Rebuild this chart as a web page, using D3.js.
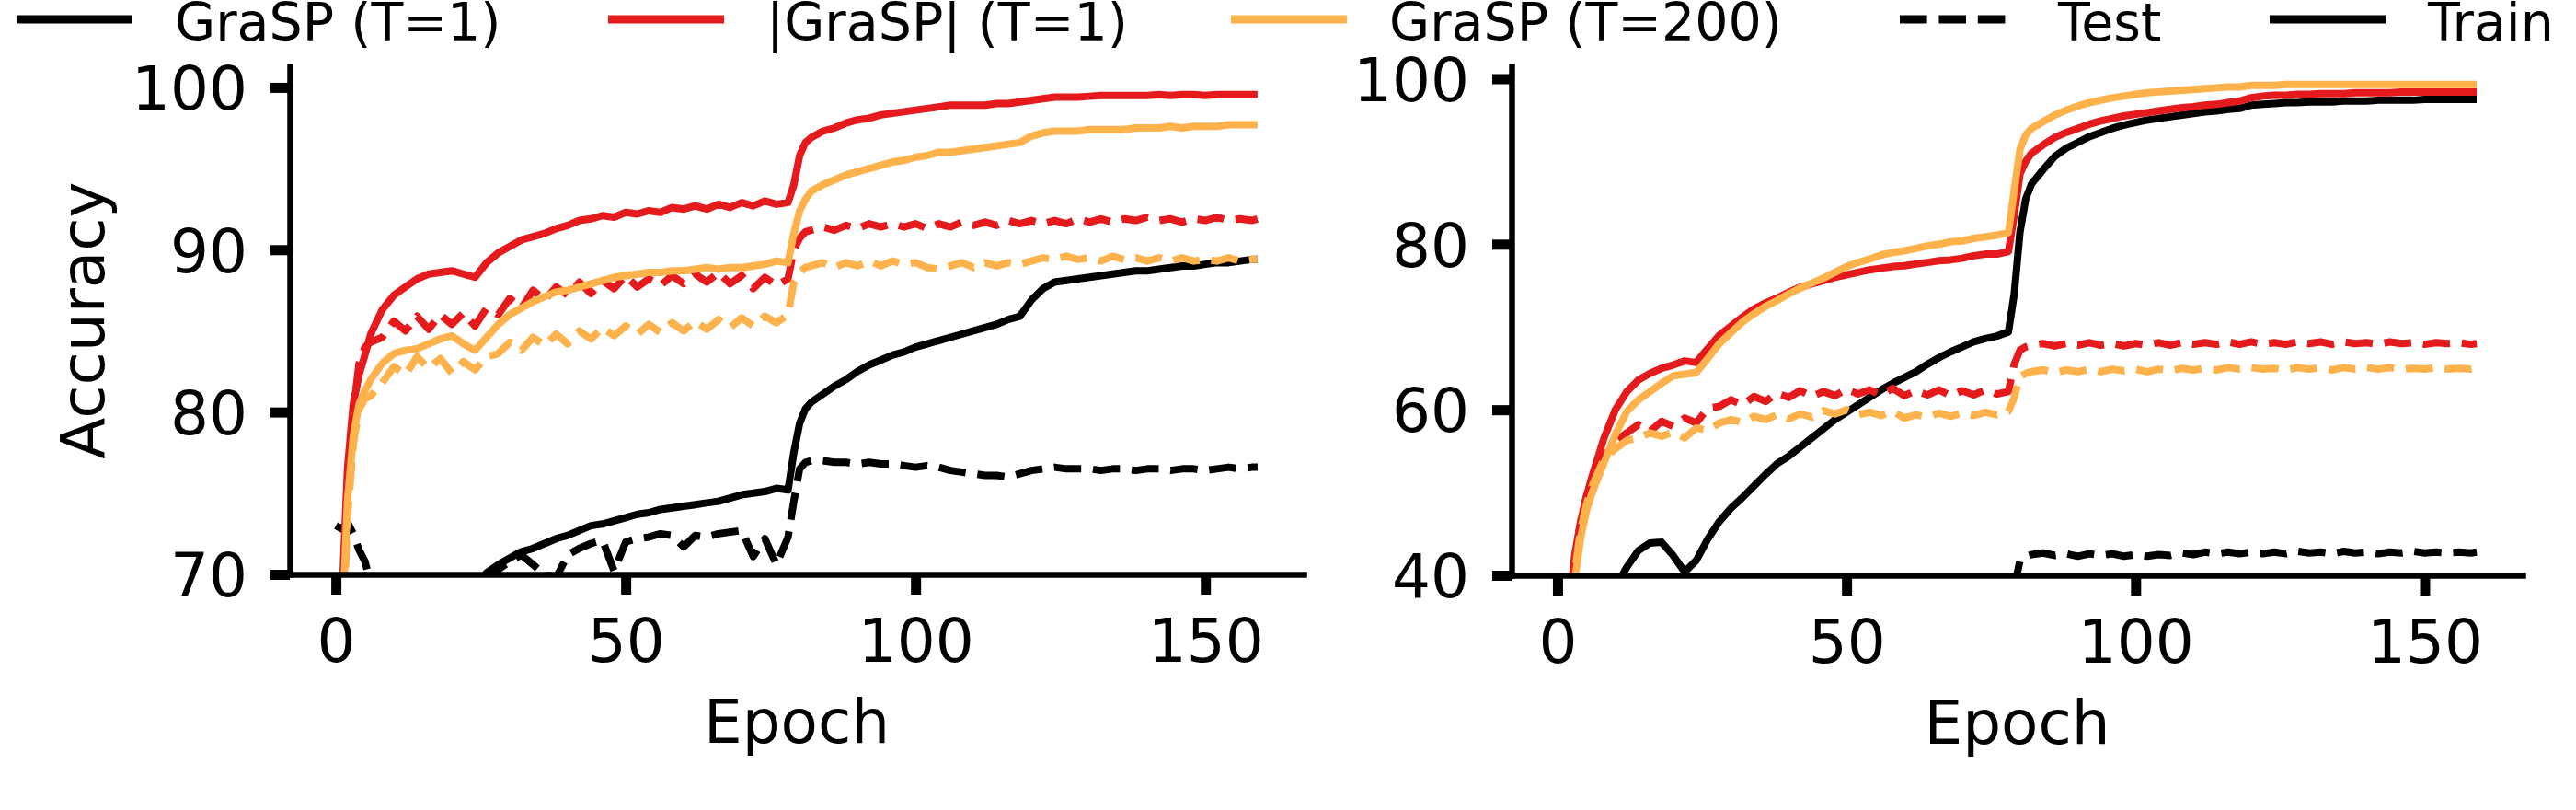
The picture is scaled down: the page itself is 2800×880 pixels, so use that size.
<!DOCTYPE html>
<html>
<head>
<meta charset="utf-8">
<script src="https://cdn.jsdelivr.net/npm/d3@7"></script>
<style>
    body { margin: 0; background: #fff; }
    text { font-family: "DejaVu Sans", sans-serif; fill: #000; }
</style>
</head>
<body>
<svg id="chart" width="2800" height="880"></svg>
<script>
'use strict';

/*
    Train / test accuracy per epoch, two panels, drawn with d3.
*/

// epochs sampled (dense around the start and the lr step at 80)
var epochs = [0, 1, 2, 3, 4, 5, 6,
    8, 10, 12, 14, 16, 18, 20, 22, 24, 26, 28, 30, 32, 34, 36, 38, 40, 42,
    44, 46, 48, 50, 52, 54, 56, 58, 60, 62, 64, 66, 68, 70, 72, 74, 76, 78,
    79, 80, 81,
    82, 84, 86, 88, 90, 92, 94, 96, 98, 100, 102, 104, 106, 108, 110, 112, 114, 116, 118,
    120, 122, 124, 126, 128, 130, 132, 134, 136, 138, 140, 142, 144, 146, 148, 150, 152, 154, 156, 158,
    159];

var xTicks = [0, 50, 100, 150];
var leftYTicks = [70, 80, 90, 100];
var rightYTicks = [40, 60, 80, 100];

/* left panel */
var leftBlackTrain = [20, 35, 45, 50, 54, 56, 58,
    60, 62, 63.5, 64.5, 65.5, 66.5, 67.5, 68.3, 69.2, 70.1, 70.6, 71.0, 71.4, 71.6, 71.9, 72.2, 72.4, 72.7,
    73.0, 73.1, 73.3, 73.5, 73.7, 73.8, 74.0, 74.1, 74.2, 74.3, 74.4, 74.5, 74.7, 74.9, 75.0, 75.1, 75.3, 75.2,
    77.5, 79.3, 80.2,
    80.6, 81.1, 81.6, 82.0, 82.5, 82.9, 83.2, 83.5, 83.7, 84.0, 84.2, 84.4, 84.6, 84.8, 85.0, 85.2, 85.4, 85.7, 85.9,
    86.9, 87.6, 88.0, 88.1, 88.2, 88.3, 88.4, 88.5, 88.6, 88.7, 88.7, 88.8, 88.9, 89.0, 89.0, 89.1, 89.2, 89.2, 89.3, 89.4,
    89.4];
var leftBlackTest = [73.0, 72.8, 73.2, 72.5, 71.5, 70.8, 69.5,
    67, 66, 65, 65.5, 66, 66.5, 67, 67.5, 68.5, 69.8, 70.3, 70.8, 71.2, 70.6, 70.0, 69.8, 71.2, 71.6,
    71.9, 72.1, 70.2, 72.0, 72.2, 72.3, 72.5, 72.4, 71.7, 72.4, 72.3, 72.5, 72.6, 72.7, 71.1, 72.2, 70.6, 72.3,
    74.5, 76.5, 76.9,
    77.0, 77.0, 76.9, 76.9, 76.8, 76.9, 76.8, 76.8, 76.7, 76.6, 76.7, 76.6, 76.4, 76.3, 76.2, 76.1, 76.1, 76.0, 76.2,
    76.4, 76.5, 76.6, 76.5, 76.5, 76.5, 76.4, 76.5, 76.5, 76.4, 76.5, 76.5, 76.4, 76.5, 76.5, 76.4, 76.5, 76.6, 76.5, 76.6,
    76.6];
var leftRedTrain = [55, 68, 76.5, 80.5, 82.3, 83.5, 84.8,
    86.3, 87.2, 87.7, 88.2, 88.5, 88.6, 88.7, 88.5, 88.3, 89.2, 89.8, 90.2, 90.6, 90.8, 91.0, 91.3, 91.5, 91.8,
    91.9, 92.1, 92.0, 92.3, 92.2, 92.4, 92.3, 92.6, 92.5, 92.7, 92.5, 92.8, 92.6, 92.9, 92.7, 93.0, 92.8, 92.9,
    94.0, 95.8, 96.6,
    96.9, 97.3, 97.5, 97.8, 98.0, 98.1, 98.3, 98.4, 98.5, 98.6, 98.7, 98.8, 98.9, 98.9, 98.9, 98.9, 99.0, 99.0, 99.1,
    99.2, 99.3, 99.4, 99.4, 99.4, 99.45, 99.5, 99.5, 99.5, 99.5, 99.5, 99.55, 99.5, 99.55, 99.55, 99.5, 99.55, 99.55, 99.55, 99.55,
    99.55];
var leftRedTest = [55, 67, 75, 80, 83.0, 84.0, 84.3,
    84.6, 85.6, 85.0, 85.9, 85.1, 86.0, 85.4, 86.1, 85.3, 86.4, 86.0, 87.0, 86.4, 87.5, 86.9, 87.7, 87.2, 88.0,
    87.3, 88.1, 87.6, 88.4, 87.7, 88.2, 87.8, 88.4, 87.9, 88.5, 88.0, 88.6, 87.9, 88.4, 87.6, 88.3, 87.8, 88.2,
    90.0, 90.7, 91.1,
    91.2, 91.4, 91.2, 91.5, 91.3, 91.6, 91.4, 91.6, 91.4, 91.6, 91.3, 91.6, 91.4, 91.7, 91.5, 91.7, 91.5, 91.8, 91.6,
    91.8, 91.6, 91.8, 91.6, 91.9, 91.7, 91.9, 91.7, 91.9, 91.8, 92.0, 91.8, 91.9, 91.7, 91.9, 91.8, 92.0, 91.8, 91.9, 91.8,
    91.9];
var leftOrangeTrain = [58, 66, 74.5, 78.5, 80.5, 81.3, 82.0,
    83.0, 83.6, 83.8, 83.9, 84.2, 84.5, 84.7, 84.2, 83.8, 84.6, 85.4, 86.0, 86.4, 86.8, 87.1, 87.4, 87.5, 87.7,
    87.9, 88.1, 88.3, 88.4, 88.5, 88.6, 88.6, 88.7, 88.7, 88.8, 88.9, 88.8, 88.9, 88.9, 89.0, 89.1, 89.3, 89.2,
    91.0, 92.4, 93.1,
    93.6, 94.0, 94.3, 94.6, 94.8, 95.0, 95.2, 95.4, 95.5, 95.7, 95.8, 96.0, 96.0, 96.1, 96.2, 96.3, 96.4, 96.5, 96.6,
    97.0, 97.2, 97.3, 97.3, 97.3, 97.4, 97.4, 97.4, 97.4, 97.5, 97.5, 97.5, 97.6, 97.5, 97.6, 97.6, 97.6, 97.7, 97.7, 97.7,
    97.7];
var leftOrangeTest = [56, 64, 73.5, 78, 80.2, 80.8, 81.0,
    81.8, 82.8, 82.3, 83.4, 82.7, 83.3, 82.4, 83.1, 82.6, 83.4, 83.6, 84.3, 83.8, 84.6, 84.1, 84.8, 84.2, 85.0,
    84.5, 85.2, 84.7, 85.3, 84.8, 85.4, 84.9, 85.5, 85.0, 85.6, 85.1, 85.7, 85.2, 85.8, 85.3, 85.9, 85.5, 86.0,
    88.0, 88.6, 88.9,
    89.0, 89.2, 88.9, 89.2, 89.0, 89.3, 89.0, 89.3, 89.1, 89.2, 88.9, 88.8, 89.0, 89.2, 88.9, 89.2, 89.0, 89.2, 89.1,
    89.3, 89.5, 89.4, 89.6, 89.4, 89.5, 89.3, 89.6, 89.4, 89.5, 89.3, 89.5, 89.3, 89.5, 89.3, 89.4, 89.3, 89.5, 89.3, 89.4,
    89.4];

/* right panel */
var rightBlackTrain = [20, 22, 24, 26, 28, 30, 32,
    35, 38.5, 41.0, 43.0, 43.9, 44.0, 42.4, 40.4, 41.8, 44.4, 46.5, 48.1, 49.4, 50.8, 52.2, 53.5, 54.4, 55.5,
    56.6, 57.7, 58.8, 59.7, 60.6, 61.5, 62.4, 63.2, 63.9, 64.6, 65.5, 66.3, 67.0, 67.6, 68.2, 68.6, 68.9, 69.4,
    74.0, 81.5, 85.5,
    87.3, 89.0, 90.6, 91.6, 92.3, 93.0, 93.5, 94.0, 94.4, 94.7, 95.0, 95.2, 95.4, 95.6, 95.8, 96.0, 96.1, 96.3, 96.4,
    96.8, 96.9, 97.0, 97.1, 97.1, 97.2, 97.2, 97.2, 97.3, 97.3, 97.3, 97.4, 97.4, 97.4, 97.4, 97.5, 97.5, 97.5, 97.5, 97.5,
    97.5];
var rightBlackTest = [12, 18, 22, 24, 25, 26, 27,
    28, 28.5, 29, 29.5, 29.8, 30.2, 30.5, 30.9, 31.2, 31.5, 31.8, 32.0, 32.3, 32.5, 32.7, 32.9, 33.1, 33.2,
    33.4, 33.5, 33.6, 33.8, 33.9, 34.0, 34.1, 34.2, 34.3, 34.4, 34.5, 34.6, 34.6, 34.7, 34.8, 34.8, 34.9, 35.0,
    38.5, 41.8, 42.3,
    42.5, 42.7, 42.4, 42.6, 42.3, 42.6, 42.4, 42.6, 42.3, 42.5, 42.3, 42.5, 42.4, 42.7, 42.5, 42.8, 42.6, 42.8, 42.6,
    42.8, 42.6, 42.8, 42.6, 42.9, 42.7, 42.8, 42.6, 42.9, 42.7, 42.8, 42.6, 42.8, 42.7, 42.9, 42.7, 42.8, 42.7, 42.8, 42.7,
    42.8];
var rightRedTrain = [20, 28, 36, 42.5, 46.5, 49.5, 52,
    56.5, 60.0, 62.2, 63.6, 64.4, 65.0, 65.4, 65.9, 65.7, 67.4, 69.0, 70.1, 71.2, 72.2, 72.9, 73.5, 74.2, 74.8,
    75.2, 75.6, 76.0, 76.3, 76.6, 76.9, 77.1, 77.3, 77.4, 77.6, 77.8, 78.0, 78.1, 78.3, 78.6, 78.8, 78.8, 79.1,
    83.5, 88.5, 90.0,
    91.0, 92.0, 92.9, 93.5, 94.0, 94.5, 94.9, 95.2, 95.5, 95.7, 95.9, 96.1, 96.3, 96.5, 96.6, 96.8, 96.9, 97.1, 97.3,
    97.7, 97.9, 98.0, 98.0, 98.1, 98.1, 98.2, 98.2, 98.2, 98.3, 98.3, 98.3, 98.3, 98.4, 98.4, 98.4, 98.4, 98.4, 98.4, 98.4,
    98.4];
var rightRedTest = [20, 28, 36, 42, 46.5, 49.5, 51.5,
    54.2, 56.2, 57.2, 58.2, 57.4, 58.6, 58.0, 59.0, 58.4, 60.2, 60.4, 61.2, 60.6, 61.6, 61.0, 62.0, 61.5, 62.3,
    61.6, 62.2, 61.7, 62.5, 61.9, 62.4, 61.8, 62.6, 61.7, 62.3, 61.8, 62.4, 61.7, 62.3, 61.8, 62.4, 61.9, 62.2,
    65.5, 67.2, 67.6,
    67.8, 68.0, 67.7, 68.0, 67.8, 68.1, 67.8, 68.0, 67.7, 68.0, 67.8, 68.1, 67.8, 68.1, 67.9, 68.1, 67.9, 68.2, 67.9,
    68.2, 67.9, 68.1, 67.9, 68.2, 68.0, 68.2, 67.9, 68.2, 68.0, 68.1, 67.9, 68.2, 68.0, 68.1, 67.9, 68.1, 68.0, 68.1, 67.9,
    68.0];
var rightOrangeTrain = [18, 25, 33, 39.5, 44.5, 47.8, 50,
    53.5, 57.0, 59.8, 61.2, 62.2, 63.2, 64.1, 64.3, 64.5, 66.2, 68.0, 69.3, 70.6, 71.6, 72.5, 73.2, 74.0, 74.7,
    75.3, 75.9, 76.6, 77.3, 77.8, 78.2, 78.7, 79.0, 79.2, 79.5, 79.8, 80.0, 80.3, 80.4, 80.7, 80.9, 81.1, 81.4,
    86.5, 91.5, 93.2,
    94.0, 94.8, 95.6, 96.2, 96.7, 97.1, 97.4, 97.7, 97.9, 98.1, 98.3, 98.4, 98.5, 98.6, 98.7, 98.8, 98.9, 99.0, 99.0,
    99.2, 99.2, 99.2, 99.3, 99.3, 99.3, 99.3, 99.3, 99.3, 99.3, 99.3, 99.3, 99.3, 99.3, 99.3, 99.3, 99.3, 99.3, 99.3, 99.3,
    99.3];
var rightOrangeTest = [18, 26, 34, 40.5, 45.5, 48.5, 50.8,
    54.0, 55.3, 56.3, 56.6, 57.2, 56.8, 57.3, 56.6, 57.8, 57.5, 58.4, 58.8, 58.5, 59.2, 58.8, 59.4, 58.9, 59.5,
    59.1, 59.9, 59.5, 60.0, 59.4, 59.7, 59.3, 59.8, 59.0, 59.4, 59.1, 59.6, 59.2, 59.6, 59.3, 59.7, 59.4, 59.8,
    61.5, 64.0, 64.4,
    64.6, 64.8, 64.5, 64.8, 64.6, 64.9, 64.6, 64.9, 64.7, 64.9, 64.6, 64.9, 64.7, 65.0, 64.8, 65.0, 64.8, 65.1, 64.9,
    65.1, 64.9, 65.0, 64.8, 65.1, 64.9, 65.1, 64.8, 65.1, 64.9, 65.1, 64.9, 65.1, 64.9, 65.0, 64.9, 65.1, 64.9, 65.0, 64.9,
    65.0];

var legendLabels = ['GraSP (T=1)', '|GraSP| (T=1)', 'GraSP (T=200)', 'Test', 'Train'];

var BLACK = '#000000', RED = '#e41a1c', ORANGE = '#feb24c';
var LW = 8;
var DASH = (3.7 * LW) + ',' + (1.6 * LW);

var svg = d3.select('#chart');

function drawPanel(p) {
    var x = d3.scaleLinear().domain([-7.95, 166.95]).range([p.left, p.right]);
    var y = d3.scaleLinear().domain(p.yDomain).range([p.bottom, p.top]);
    var g = svg.append('g');

    g.append('clipPath').attr('id', 'clip-' + p.id)
        .append('rect')
        .attr('x', p.left).attr('y', p.top)
        .attr('width', p.right - p.left).attr('height', p.bottom - p.top);

    var line = d3.line()
        .x(function(d, i) { return x(epochs[i]); })
        .y(function(d) { return y(d); });

    var lines = g.append('g').attr('clip-path', 'url(#clip-' + p.id + ')');
    p.series.forEach(function(s) {
        lines.append('path')
            .datum(s.values)
            .attr('d', line)
            .attr('fill', 'none')
            .attr('stroke', s.color)
            .attr('stroke-width', LW)
            .attr('stroke-linejoin', 'round')
            .attr('stroke-dasharray', s.dashed ? DASH : null);
    });

    // axes
    var yAxis = d3.axisLeft(y).tickValues(p.yTicks).tickSize(21).tickPadding(25).tickSizeOuter(0);
    var xAxis = d3.axisBottom(x).tickValues(xTicks).tickSize(22).tickPadding(26).tickSizeOuter(0);

    var ya = g.append('g').attr('transform', 'translate(' + p.left + ',0)').call(yAxis);
    var xa = g.append('g').attr('transform', 'translate(0,' + p.bottom + ')').call(xAxis);

    [ya, xa].forEach(function(a) {
        a.select('.domain').attr('stroke', BLACK).attr('stroke-width', 6.5).attr('stroke-linecap', 'square');
        a.selectAll('.tick line').attr('stroke', BLACK).attr('stroke-width', 11);
        a.selectAll('.tick text')
            .style('font-family', '"DejaVu Sans", sans-serif')
            .style('font-size', '66px')
            .attr('fill', BLACK);
    });
    ya.selectAll('.tick text').attr('dy', '0.36em');

    g.append('text')
        .attr('x', (p.left + p.right) / 2)
        .attr('y', p.bottom + 183)
        .attr('text-anchor', 'middle')
        .style('font-size', '66px')
        .text('Epoch');

    if (p.ylabel) {
        g.append('text')
            .attr('transform', 'translate(113,' + ((p.top + p.bottom) / 2) + ') rotate(-90)')
            .attr('text-anchor', 'middle')
            .style('font-size', '66px')
            .text(p.ylabel);
    }
}

drawPanel({
    id: 'left', left: 315, right: 1417, top: 72, bottom: 624,
    yDomain: [70, 101.3], yTicks: leftYTicks, ylabel: 'Accuracy',
    series: [
        { values: leftBlackTrain, color: BLACK },
        { values: leftBlackTest, color: BLACK, dashed: true },
        { values: leftRedTrain, color: RED },
        { values: leftRedTest, color: RED, dashed: true },
        { values: leftOrangeTrain, color: ORANGE },
        { values: leftOrangeTest, color: ORANGE, dashed: true }
    ]
});

drawPanel({
    id: 'right', left: 1643, right: 2742, top: 72, bottom: 625,
    yDomain: [40, 101.5], yTicks: rightYTicks,
    series: [
        { values: rightBlackTrain, color: BLACK },
        { values: rightBlackTest, color: BLACK, dashed: true },
        { values: rightRedTrain, color: RED },
        { values: rightRedTest, color: RED, dashed: true },
        { values: rightOrangeTrain, color: ORANGE },
        { values: rightOrangeTest, color: ORANGE, dashed: true }
    ]
});

/* figure legend across the top (it runs off the right edge, as in the original) */
var legendColors = [BLACK, RED, ORANGE, BLACK, BLACK];
var legendDashed = [false, false, false, true, false];
var legendX = [18, 661, 1338, 2065, 2467];

var legend = svg.append('g');
legendLabels.forEach(function(label, i) {
    legend.append('line')
        .attr('x1', legendX[i]).attr('x2', legendX[i] + 126)
        .attr('y1', 21).attr('y2', 21)
        .attr('stroke', legendColors[i])
        .attr('stroke-width', LW + 1)
        .attr('stroke-dasharray', legendDashed[i] ? DASH : null);
    legend.append('text')
        .attr('x', legendX[i] + 172)
        .attr('y', 44)
        .style('font-size', '57px')
        .text(label);
});
</script>
</body>
</html>
